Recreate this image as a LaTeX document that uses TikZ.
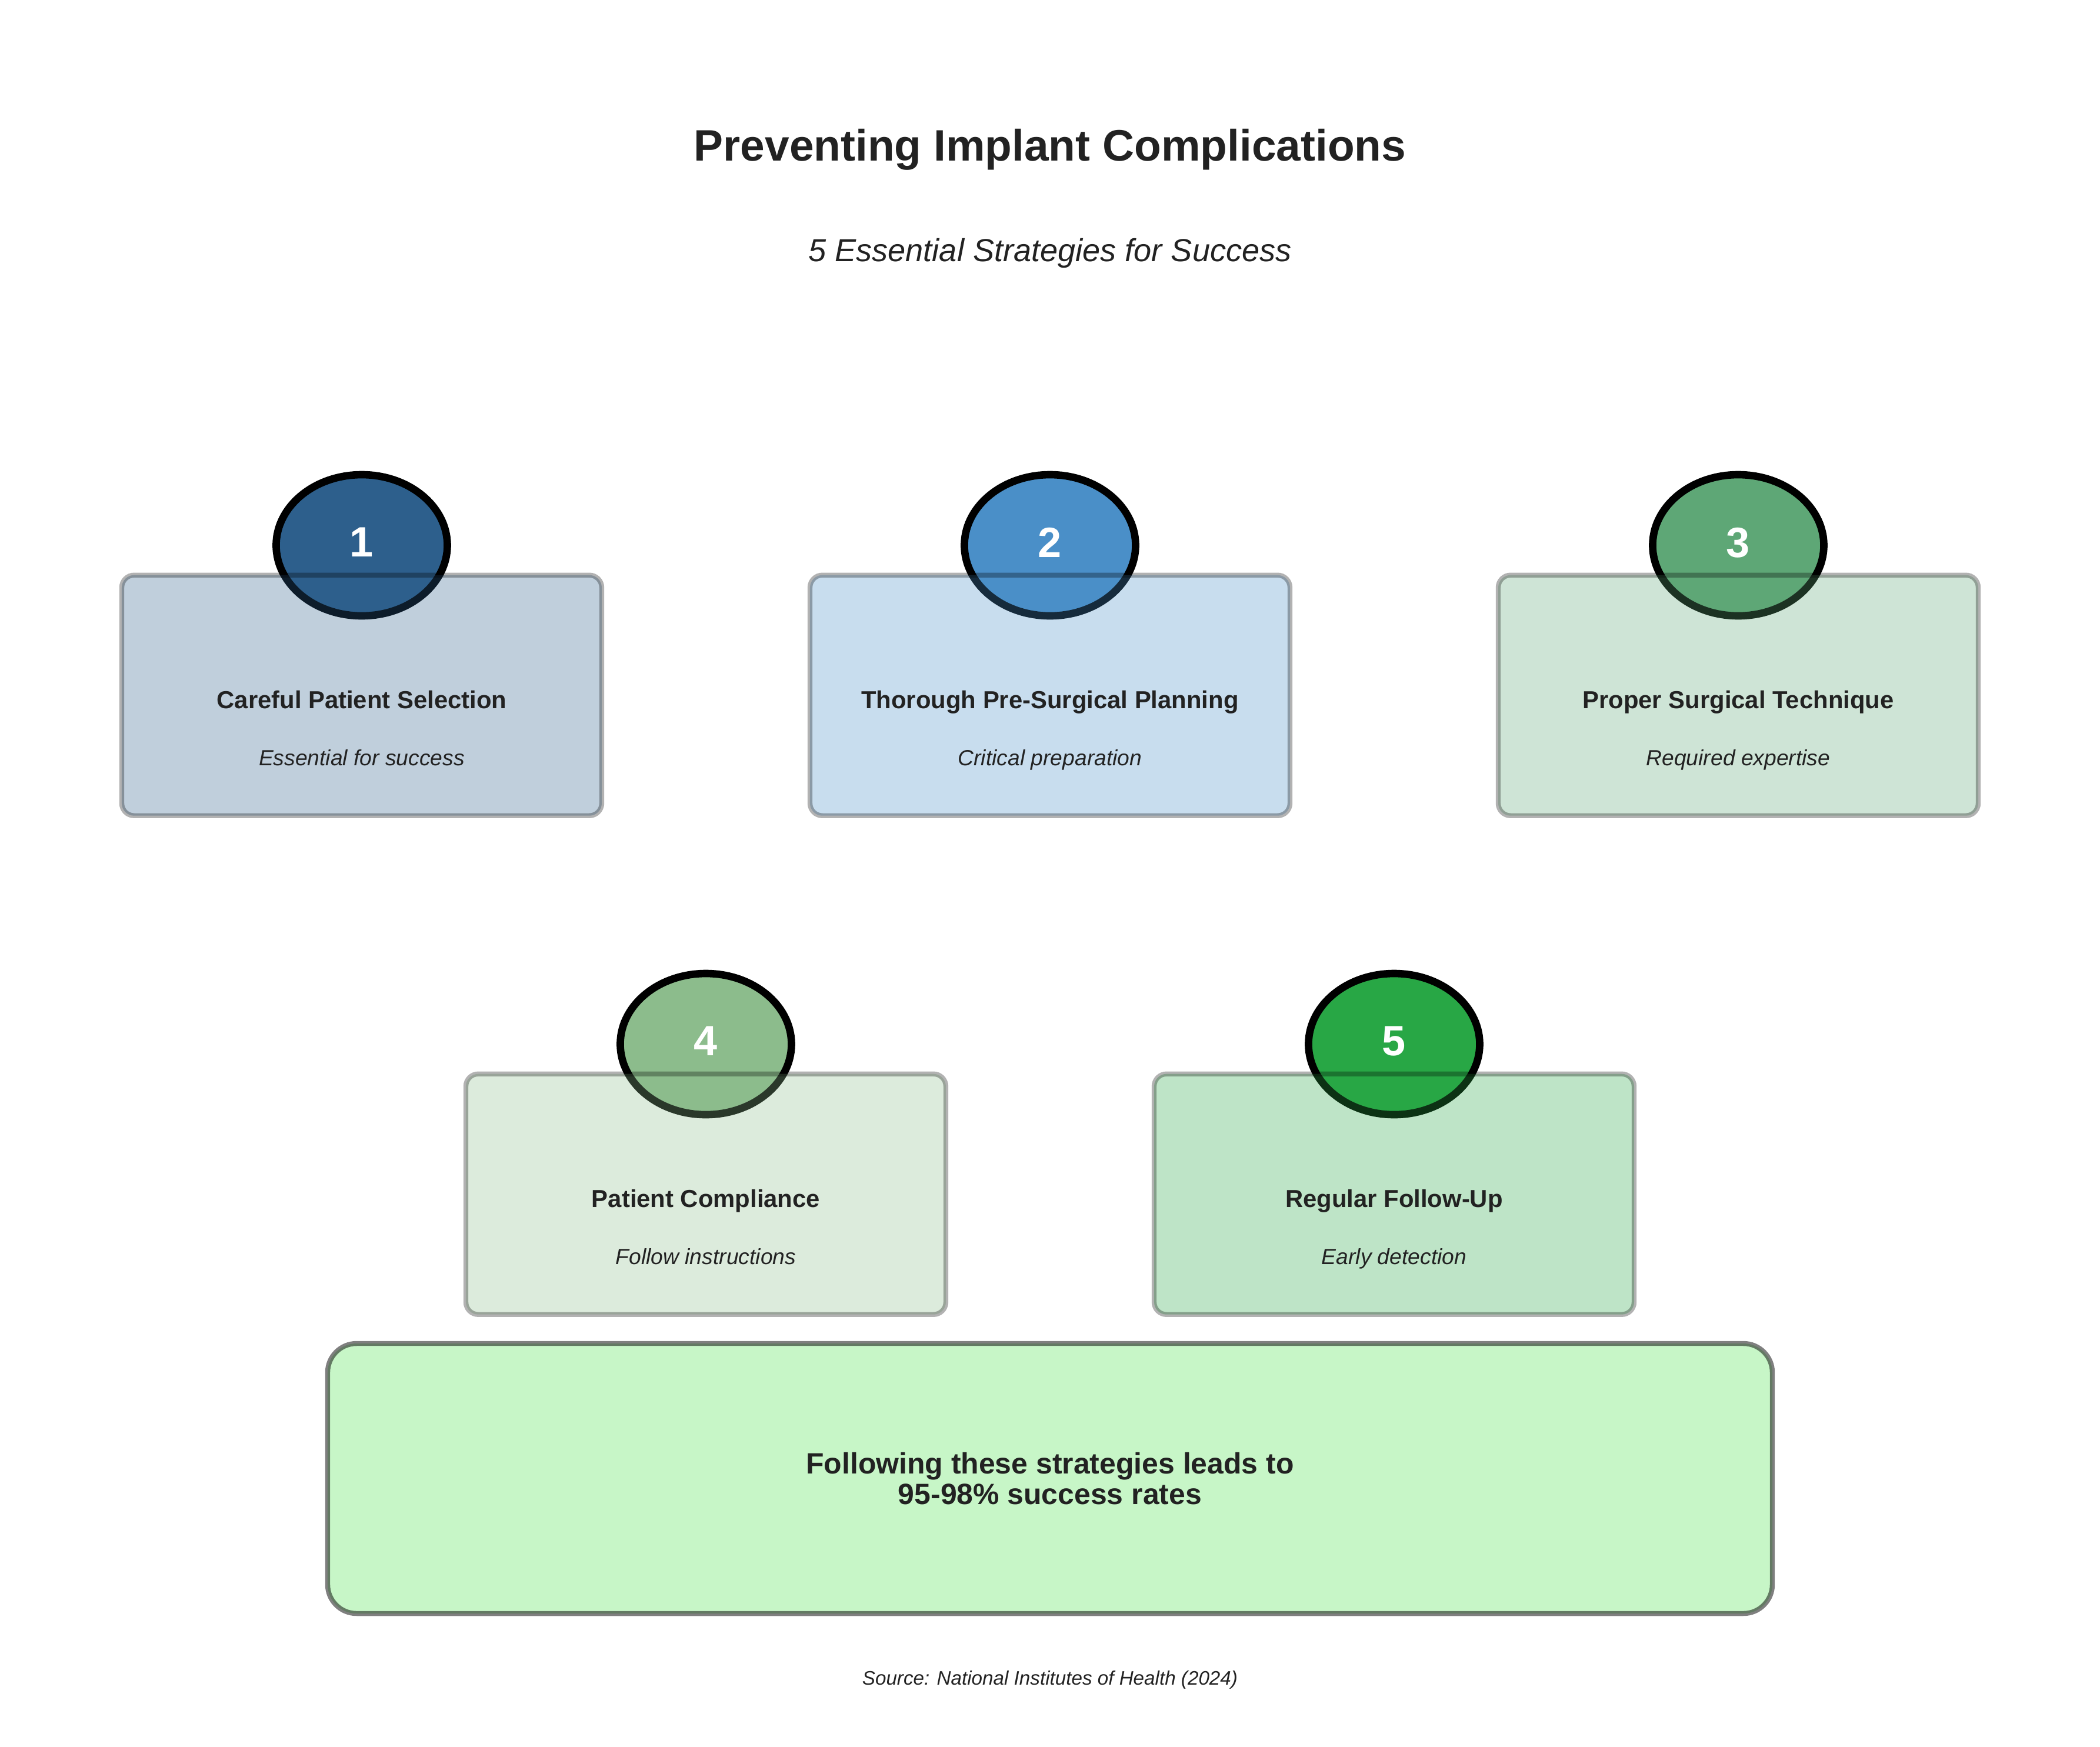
\documentclass[tikz,border=0pt]{standalone}
\usepackage{fontspec}
\setmainfont{Liberation Sans}
\usetikzlibrary{positioning,shapes.geometric}
\definecolor{ink}{HTML}{222222}
\definecolor{stepA}{HTML}{2D5F8C}
\definecolor{stepB}{HTML}{4A8FC8}
\definecolor{stepC}{HTML}{5EA776}
\definecolor{stepD}{HTML}{8CBC8C}
\definecolor{stepE}{HTML}{28A745}
\definecolor{goal}{HTML}{90EE90}

\begin{document}
\begin{tikzpicture}[
  num/.style={ellipse,draw=black,line width=3.6pt,fill=#1,minimum width=2.91cm,minimum height=2.40cm,inner sep=0pt,text depth=0.1cm,text=white,font=\bfseries\fontsize{20.5}{24}\selectfont},
  card/.style={draw=black,draw opacity=.3,line width=2.4pt,rounded corners=6pt,fill=#1,fill opacity=.3,minimum width=8.16cm,minimum height=4.09cm,inner sep=0pt},
  head/.style={anchor=base,text=ink,font=\bfseries\fontsize{11.9}{14}\selectfont},
  note/.style={anchor=base,text=ink,font=\itshape\fontsize{10.6}{13}\selectfont}]
\useasboundingbox (-17.85,0) rectangle (17.85,-29.7);
\node[anchor=base,text=ink,font=\bfseries\fontsize{21.3}{25}\selectfont] (title) at (0,-2.73) {Preventing Implant Complications};
\node[anchor=base,text=ink,font=\itshape\fontsize{15.4}{18}\selectfont] (subtitle) at (0,-4.44) {5 Essential Strategies for Success};
% top row
\node[num=stepA] (n1) at (-11.7,-9.27) {1};
\node[card=stepA, below=0.465cm of n1.center] (select) {};
\node[head] (t1) at ([yshift=-0.22cm]select.center) {Careful Patient Selection};
\node[note] (s1) at ([yshift=-1.19cm]select.center) {Essential for success};
\node[num=stepB] (n2) at (0,-9.27) {2};
\node[card=stepB, below=0.465cm of n2.center] (plan) {};
\node[head] (t2) at ([yshift=-0.22cm]plan.center) {Thorough Pre-Surgical Planning};
\node[note] (s2) at ([yshift=-1.19cm]plan.center) {Critical preparation};
\node[num=stepC] (n3) at (11.7,-9.27) {3};
\node[card=stepC, below=0.465cm of n3.center] (surgery) {};
\node[head] (t3) at ([yshift=-0.22cm]surgery.center) {Proper Surgical Technique};
\node[note] (s3) at ([yshift=-1.19cm]surgery.center) {Required expertise};
% bottom row
\node[num=stepD] (n4) at (-5.85,-17.75) {4};
\node[card=stepD, below=0.465cm of n4.center] (comply) {};
\node[head] (t4) at ([yshift=-0.22cm]comply.center) {Patient Compliance};
\node[note] (s4) at ([yshift=-1.19cm]comply.center) {Follow instructions};
\node[num=stepE] (n5) at (5.85,-17.75) {5};
\node[card=stepE, below=0.465cm of n5.center] (followup) {};
\node[head] (t5) at ([yshift=-0.22cm]followup.center) {Regular Follow-Up};
\node[note] (s5) at ([yshift=-1.19cm]followup.center) {Early detection};
\node[draw=black,draw opacity=.5,line width=2.4pt,rounded corners=14pt,fill=goal,fill opacity=.5,text opacity=1,minimum width=24.56cm,minimum height=4.59cm,align=center,text=ink,font=\bfseries\fontsize{14.2}{14.8}\selectfont] (outcome) at (0,-25.135) {Following these strategies leads to\\95-98\% success rates};
\node[anchor=base,text=ink,font=\itshape\fontsize{9.45}{11}\selectfont] (source) at (0,-28.64) {Source: National Institutes of Health (2024)};
\end{tikzpicture}
\end{document}
